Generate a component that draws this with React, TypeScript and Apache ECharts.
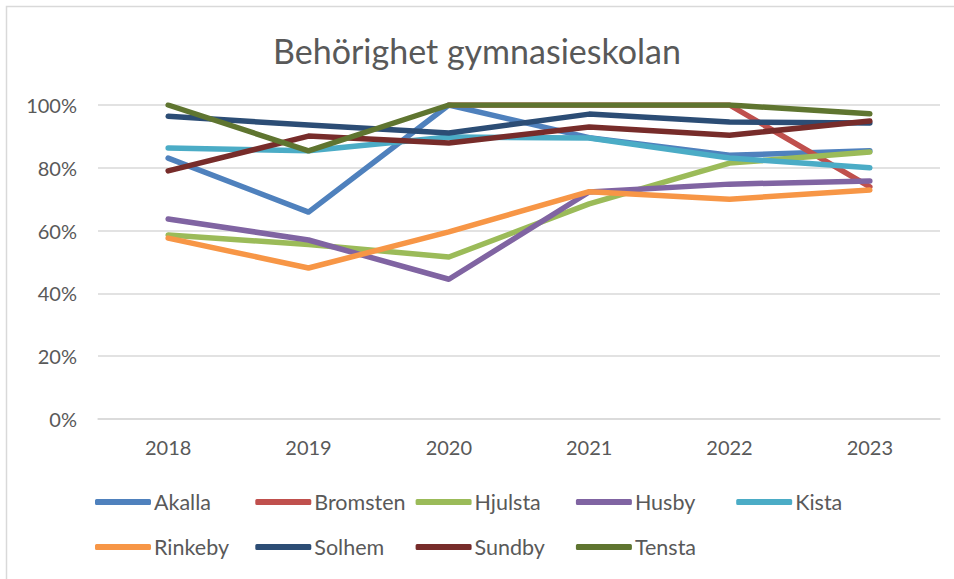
import React, { useEffect, useRef } from "react";
import * as echarts from "echarts";

const years = ["2018", "2019", "2020", "2021", "2022", "2023"];
const akalla = [83.1, 65.9, 100, 89.6, 84, 85.4];
const bromsten = [null, null, 100, 100, 100, 73.9];
const hjulsta = [58.6, 55.6, 51.6, 68.5, 81.5, 85];
const husby = [63.7, 57, 44.5, 72.3, 74.8, 75.8];
const kista = [86.3, 85.4, 89.8, 89.5, 83.1, 80];
const rinkeby = [57.6, 48.1, 59.6, 72.4, 70, 72.9];
const solhem = [96.4, 93.6, 91.1, 97.1, 94.6, 94.3];
const sundby = [79, 90.1, 87.9, 93, 90.4, 94.9];
const tensta = [100, 85.4, 100, 100, 100, 97.2];

const seriesNames = ["Akalla", "Bromsten", "Hjulsta", "Husby", "Kista", "Rinkeby", "Solhem", "Sundby", "Tensta"];
const seriesData = [akalla, bromsten, hjulsta, husby, kista, rinkeby, solhem, sundby, tensta];
const colors = ["#4F81BD", "#C0504D", "#9BBB59", "#8064A2", "#4BACC6", "#F79646", "#2C4D75", "#772C2A", "#5F7530"];
const yTicks = [0, 20, 40, 60, 80, 100];

const FONT = "Lato, 'Open Sans', sans-serif";
const TEXT = "#595959";

export default function App() {
  const ref = useRef<HTMLDivElement>(null);
  useEffect(() => {
    document.body.style.margin = "0";
    const chart = echarts.init(ref.current!, null, { renderer: "svg" });
    const legends = seriesNames.map((n, i) => ({
      data: [n],
      left: 95 + (i % 5) * 160.3,
      top: i < 5 ? 491 : 536,
      icon: "roundRect",
      itemWidth: 56,
      itemHeight: 6,
      itemGap: 0,
      padding: 0,
      textStyle: { color: TEXT, fontSize: 21.5, fontFamily: FONT, padding: [0, 0, 0, -2] },
    }));
    chart.setOption({
      animation: false,
      color: colors,
      title: {
        text: "Behörighet gymnasieskolan",
        left: "center",
        top: 28,
        textStyle: { color: TEXT, fontSize: 34, fontWeight: "normal", fontFamily: FONT },
      },
      graphic: [
        {
          type: "rect",
          shape: { x: 6.5, y: 6.5, width: 1000, height: 700 },
          style: { fill: "none", stroke: "#d9d9d9", lineWidth: 1.5 },
          silent: true,
        },
      ],
      legend: legends,
      grid: { left: 98, right: 14, top: 105, bottom: 160 },
      xAxis: {
        type: "category",
        data: years,
        boundaryGap: true,
        axisLine: { lineStyle: { color: "#d9d9d9", width: 1.5 } },
        axisTick: { show: false },
        axisLabel: { color: TEXT, fontSize: 20, fontFamily: FONT, margin: 18 },
      },
      yAxis: {
        type: "value",
        min: yTicks[0],
        max: yTicks[yTicks.length - 1],
        interval: 20,
        axisLine: { show: false },
        axisTick: { show: false },
        splitLine: { lineStyle: { color: "#d9d9d9", width: 1.5 } },
        axisLabel: { color: TEXT, fontSize: 20, fontFamily: FONT, margin: 21, formatter: "{value}%" },
      },
      series: seriesNames.map((n, i) => ({
        name: n,
        type: "line",
        data: seriesData[i],
        symbol: "none",
        connectNulls: false,
        lineStyle: { width: 5.5, cap: "round", join: "round", color: colors[i] },
        itemStyle: { color: colors[i] },
      })),
    });
    return () => chart.dispose();
  }, []);
  return <div ref={ref} style={{ width: 954, height: 579 }} />;
}
